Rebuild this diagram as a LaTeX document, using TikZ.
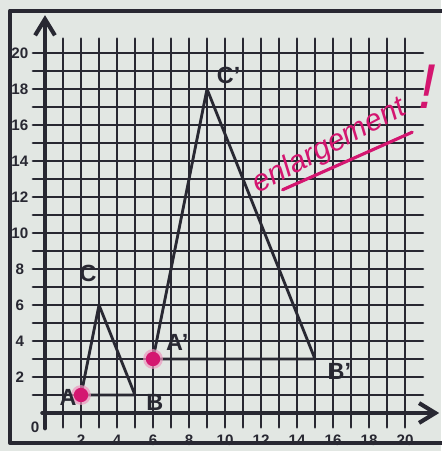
\documentclass[tikz,border=0pt]{standalone}
\usepackage{fontspec}
\setmainfont{Liberation Sans}
\usetikzlibrary{arrows.meta}
\definecolor{paper}{RGB}{226,231,227}
\definecolor{gridink}{RGB}{40,40,50}
\definecolor{marker}{RGB}{212,22,112}
\begin{document}
\begin{tikzpicture}[line join=round, line cap=round,>={Straight Barb[length=0.9cm,width=1.1cm]},thick]
			\tikzset{every node/.style={font=\bfseries\fontsize{24}{24}\selectfont,text=gridink}}
			\tikzset{vlabel/.style={font=\bfseries\fontsize{37}{37}\selectfont}}
			\tikzset{side/.style={gridink,line width=4.5pt}}
			\fill[paper] (-2.5,-2.111) rectangle (22,22.944);
			\useasboundingbox (-2.5,-2.111) rectangle (22,22.944);
			\draw[line width=6.5pt,gridink] (-1.94,-1.67) rectangle (22.4,22.35);
			\foreach \x in {1,...,20}
			\draw[gridink,line width=4pt] (\x,-0.8)--(\x,20.8);
			\foreach \y in {1,...,20}
			\draw[gridink,line width=4pt] (-0.67,\y)--(21,\y);
			\coordinate (xs) at (-0.15,0);
			\coordinate (xe) at (21.9,0);
			\coordinate (ys) at (0,-0.85);
			\coordinate (ye) at (0,22.1);
			\draw[->,line width=6.5pt,gridink] (xs)--(xe);
			\draw[->,line width=6.5pt,gridink] (ys)--(ye);
			\node (O) at (-0.55,-0.8) {0};
			\foreach \x in {2,4,...,20}
			\node (x\x) at (\x,-1.5) {\x};
			\foreach \y in {2,4,...,20}
			\node (y\y) at (-1.4,\y) {\y};
			% original triangle
			\coordinate (A) at (2,1);
			\coordinate (B) at (5,1);
			\coordinate (C) at (3,6);
			\draw[side] (A)--(B)--(C)--cycle;
			% image
			\coordinate (Ai) at (6,3);
			\coordinate (Bi) at (15,3);
			\coordinate (Ci) at (9,18);
			\draw[side] (Ai)--(Bi)--(Ci)--cycle;
			\foreach \p in {A,Ai}{
				\fill[marker!45,opacity=.7] (\p) circle (0.55);
				\fill[marker] (\p) circle (0.4);
			}
			\node[vlabel] (lA) at (1.28,0.89) {A};
			\node[vlabel] (lB) at (6.1,0.6) {B};
			\node[vlabel] (lC) at (2.39,7.78) {C};
			\node[vlabel] (lAi) at (7.35,3.9) {A'};
			\node[vlabel] (lBi) at (16.35,2.3) {B'};
			\node[vlabel] (lCi) at (10.2,18.75) {C'};
			% note
			\node[text=marker,inner sep=0pt,font=\itshape\fontsize{48}{48}\selectfont,rotate=28] (note) at (15.8,14.8) {enlargement};
			\node[text=marker,inner sep=0pt,font=\itshape\fontsize{100}{100}\selectfont] (bang) at (21.25,18.15) {!};
			\coordinate (ua) at (13.2,12.4);
			\coordinate (ub) at (20.4,15.6);
			\draw[marker,line width=5pt] (ua)--(ub);
		\end{tikzpicture}
\end{document}
